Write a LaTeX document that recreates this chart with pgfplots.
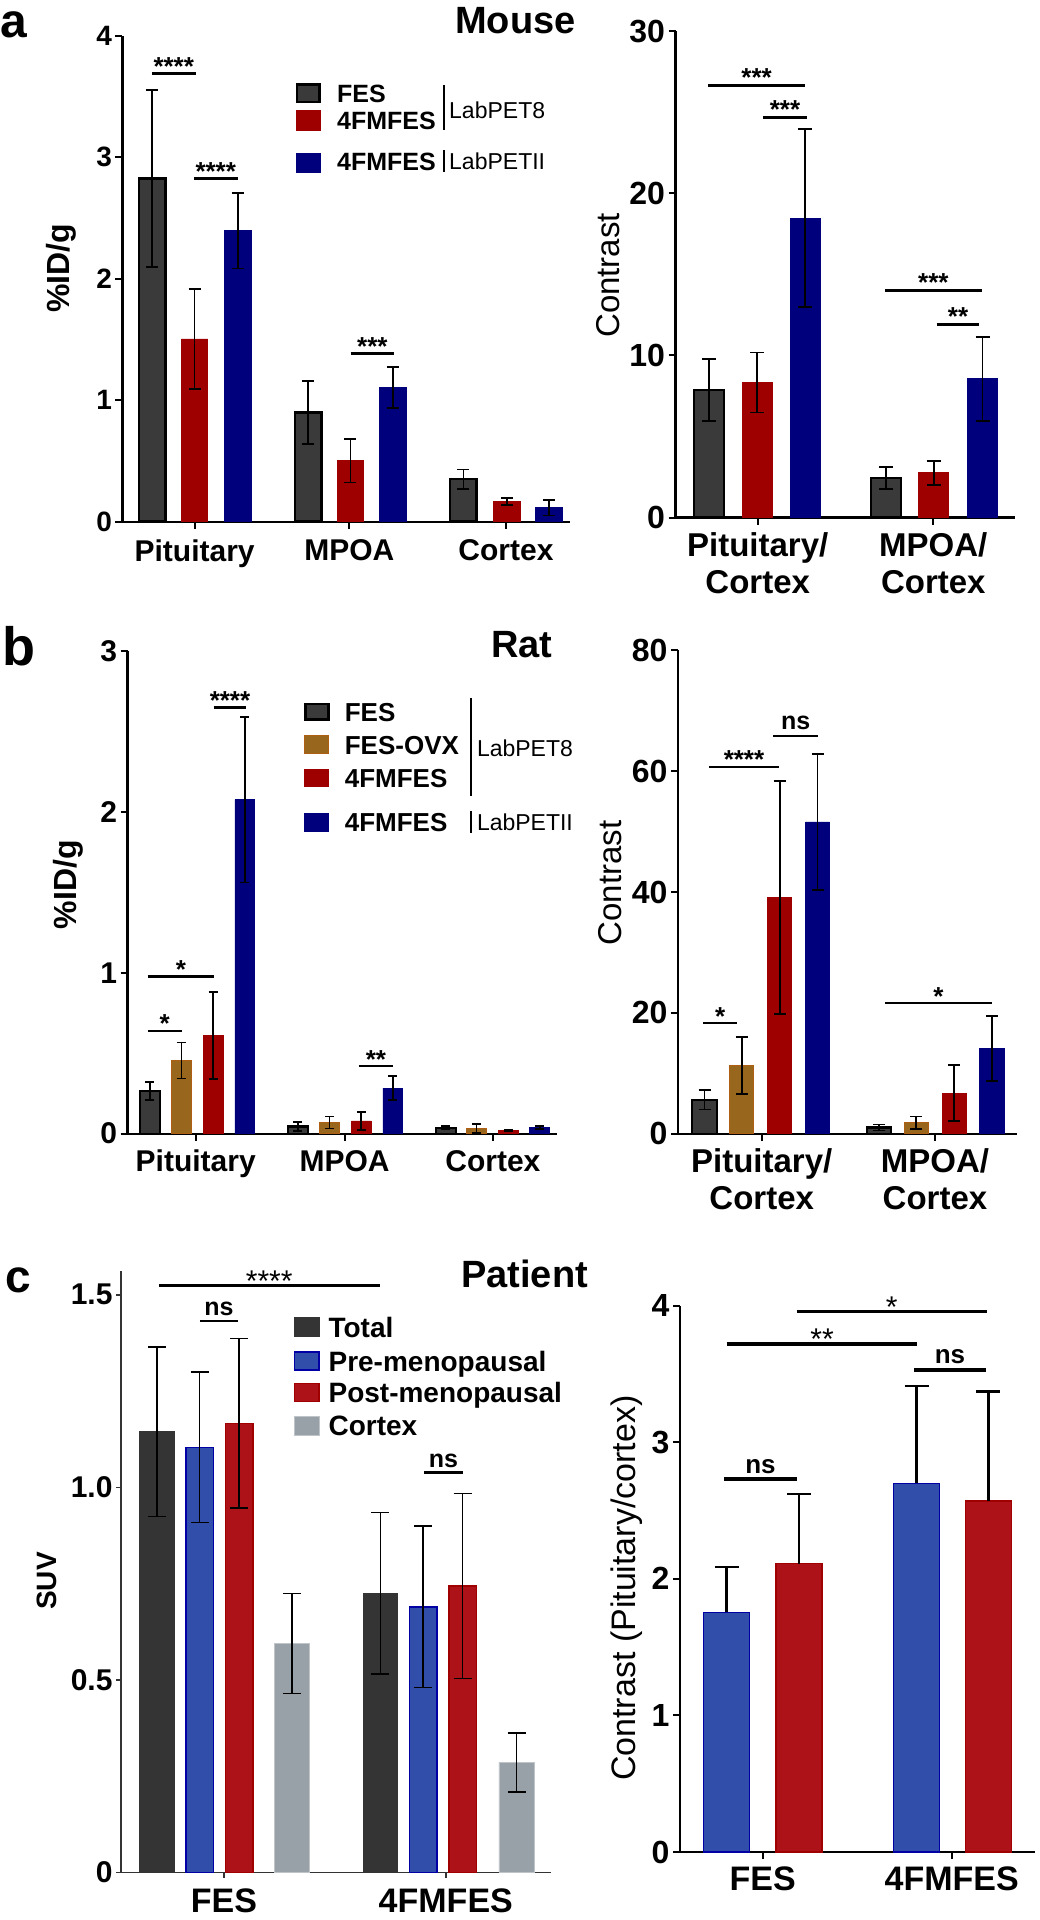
\documentclass[border=0pt]{standalone}
\usepackage{pgfplots}
\pgfplotsset{compat=1.18}
\usepackage{fontspec}
\setmainfont{Liberation Sans}
\newcommand\fs[1]{\fontsize{#1}{#1}\selectfont}
\definecolor{fesgray}{RGB}{58,58,58}
\definecolor{redA}{RGB}{158,0,0}
\definecolor{navyA}{RGB}{0,0,125}
\definecolor{ovx}{RGB}{152,102,28}
\definecolor{ovxb}{RGB}{175,95,20}
\definecolor{ctot}{RGB}{52,52,52}
\definecolor{cpre}{RGB}{48,78,170}
\definecolor{cpreb}{RGB}{0,0,165}
\definecolor{cpost}{RGB}{172,18,24}
\definecolor{cpostb}{RGB}{160,0,0}
\definecolor{ccor}{RGB}{152,161,167}
\definecolor{ccorb}{RGB}{190,196,200}
\tikzset{sig/.style={line width=2.4pt}, sigc/.style={line width=3.4pt}}
\pgfplotsset{
 panel/.style={scale only axis, clip=false, anchor=south west,
   axis x line*=bottom, axis y line*=left,
   axis line style={line width=2.2pt,black},
   major tick length=7pt, tick align=outside,
   tick style={line width=2pt,black},
   ymin=0,
   yticklabel style={font=\fs{28}\bfseries},
   xticklabel style={font=\fontsize{30}{36}\selectfont\bfseries, align=center}},
 errs/.style 2 args={error bars/.cd, y dir=both, y explicit,
   error bar style={line width=#1,black},
   error mark options={rotate=90, mark size=#2, line width=#1, black}},
 errp/.style 2 args={error bars/.cd, y dir=plus, y explicit,
   error bar style={line width=#1,black},
   error mark options={rotate=90, mark size=#2, line width=#1, black}},
}
\begin{document}
\begin{tikzpicture}
\useasboundingbox (0pt,-1920pt) rectangle (1039pt,0pt);

% ---------------- a left
\begin{axis}[panel, at={(122.5pt,-521.6pt)}, width=447.5pt, height=485.7pt,
  xmin=122.5, xmax=570, ymax=4, ytick={0,1,2,3,4}, yticklabels={0,1,2,3,4},
  xtick={194.6,349.3,506}, xticklabels={Pituitary,MPOA,Cortex},
  xticklabel style={yshift=-7.5pt},
  ylabel={\%ID/g}, ylabel style={font=\fs{32}\bfseries, at={(axis description cs:-0.137,0.522)}, anchor=center}]
\addplot[ybar, bar shift=0pt, bar width=26.5pt, fill=fesgray, draw=black, line width=2.5pt, errs={1.8pt}{6pt}]
 coordinates {(152.3,2.825) +- (0,0.73) (308.2,0.898) +- (0,0.26) (463.4,0.349) +- (0,0.08)};
\addplot[ybar, bar shift=0pt, bar width=26.5pt, fill=redA, draw=redA, line width=0.8pt, errs={1.8pt}{6pt}]
 coordinates {(194.5,1.504) +- (0,0.41) (350.4,0.502) +- (0,0.18) (507,0.165) +- (0,0.03)};
\addplot[ybar, bar shift=0pt, bar width=26.5pt, fill=navyA, draw=navyA, line width=0.8pt, errs={1.8pt}{6pt}]
 coordinates {(237.7,2.395) +- (0,0.31) (392.7,1.105) +- (0,0.17) (549,0.115) +- (0,0.065)};
\draw[sig] (axis cs:151.8,3.69) -- (axis cs:195.7,3.69) node[midway, anchor=base, yshift=-2pt, font=\fs{26}\bfseries] {****};
\draw[sig] (axis cs:194,2.825) -- (axis cs:237.5,2.825) node[midway, anchor=base, yshift=-2pt, font=\fs{26}\bfseries] {****};
\draw[sig] (axis cs:350.7,1.386) -- (axis cs:394,1.386) node[midway, anchor=base, yshift=-2pt, font=\fs{26}\bfseries] {***};
\end{axis}

% ---------------- a right
\begin{axis}[panel, at={(675.5pt,-517.5pt)}, width=339.5pt, height=486.1pt,
  xmin=675.5, xmax=1015, ymax=30, ytick={0,10,20,30}, yticklabels={0,10,20,30},
  yticklabel style={font=\fs{32}\bfseries},
  xtick={757.7,933.3}, xticklabels={{Pituitary/\\Cortex},{MPOA/\\Cortex}},
  xticklabel style={font=\fontsize{33}{37}\selectfont\bfseries, yshift=-5pt},
  ylabel={Contrast}, ylabel style={font=\fs{33}, at={(axis description cs:-0.199,0.498)}, anchor=center}]
\addplot[ybar, bar shift=0pt, bar width=30pt, fill=fesgray, draw=black, line width=2.5pt, errs={1.8pt}{7pt}]
 coordinates {(709,7.87) +- (0,1.9) (886,2.44) +- (0,0.7)};
\addplot[ybar, bar shift=0pt, bar width=30pt, fill=redA, draw=redA, line width=0.8pt, errs={1.8pt}{7pt}]
 coordinates {(757,8.33) +- (0,1.85) (933.7,2.76) +- (0,0.75)};
\addplot[ybar, bar shift=0pt, bar width=30pt, fill=navyA, draw=navyA, line width=0.8pt, errs={1.8pt}{7pt}]
 coordinates {(805,18.48) +- (0,5.5) (982.5,8.56) +- (0,2.6)};
\draw[sig] (axis cs:708.3,26.65) -- (axis cs:805,26.65) node[midway, anchor=base, yshift=-1pt, font=\fs{26}\bfseries] {***};
\draw[sig] (axis cs:763.3,24.68) -- (axis cs:806.7,24.68) node[midway, anchor=base, yshift=-1pt, font=\fs{26}\bfseries] {***};
\draw[sig] (axis cs:885,14.0) -- (axis cs:981.7,14.0) node[midway, anchor=base, yshift=-1pt, font=\fs{26}\bfseries] {***};
\draw[sig] (axis cs:936.7,11.9) -- (axis cs:979.3,11.9) node[midway, anchor=base, yshift=-1pt, font=\fs{26}\bfseries] {**};
\end{axis}

% ---------------- b left
\begin{axis}[panel, at={(127.5pt,-1133.6pt)}, width=429.5pt, height=482.4pt,
  xmin=127.5, xmax=557, ymax=3, ytick={0,1,2,3}, yticklabels={0,1,2,3},
  yticklabel style={font=\fs{30}\bfseries},
  xtick={195.7,344.6,492.9}, xticklabels={Pituitary,MPOA,Cortex},
  xticklabel style={yshift=-6pt},
  ylabel={\%ID/g}, ylabel style={font=\fs{32}\bfseries, at={(axis description cs:-0.1385,0.516)}, anchor=center}]
\addplot[ybar, bar shift=0pt, bar width=19.8pt, fill=fesgray, draw=black, line width=2.2pt, errs={1.8pt}{4.5pt}]
 coordinates {(149.8,0.265) +- (0,0.055) (297.9,0.044) +- (0,0.03) (445.8,0.037) +- (0,0.012)};
\addplot[ybar, bar shift=0pt, bar width=19.8pt, fill=ovx, draw=ovxb, line width=1pt, errs={1.8pt}{4.5pt}]
 coordinates {(181.4,0.455) +- (0,0.112) (329.5,0.069) +- (0,0.037) (476.5,0.03) +- (0,0.028)};
\addplot[ybar, bar shift=0pt, bar width=19.8pt, fill=redA, draw=redA, line width=0.8pt, errs={1.8pt}{4.5pt}]
 coordinates {(213,0.61) +- (0,0.27) (361.3,0.079) +- (0,0.056) (508,0.018) +- (0,0.005)};
\addplot[ybar, bar shift=0pt, bar width=19.8pt, fill=navyA, draw=navyA, line width=0.8pt, errs={1.8pt}{4.5pt}]
 coordinates {(244.8,2.077) +- (0,0.515) (392.8,0.283) +- (0,0.074) (539.6,0.037) +- (0,0.01)};
\draw[sig] (axis cs:213.6,2.649) -- (axis cs:246.4,2.649) node[midway, anchor=base, yshift=-2pt, font=\fs{26}\bfseries] {****};
\draw[sig] (axis cs:147.5,0.976) -- (axis cs:214.3,0.976) node[midway, anchor=base, yshift=-2pt, font=\fs{26}\bfseries] {*};
\draw[sig] (axis cs:147.5,0.639) -- (axis cs:182.1,0.639) node[midway, anchor=base, yshift=-2pt, font=\fs{26}\bfseries] {*};
\draw[sig] (axis cs:358.6,0.42) -- (axis cs:393.4,0.42) node[midway, anchor=base, yshift=-2pt, font=\fs{26}\bfseries] {**};
\end{axis}

% ---------------- b right
\begin{axis}[panel, at={(678pt,-1133.6pt)}, width=339.3pt, height=483.2pt,
  xmin=678, xmax=1017.3, ymax=80, ytick={0,20,40,60,80}, yticklabels={0,20,40,60,80},
  yticklabel style={font=\fs{32}\bfseries},
  xtick={761.7,935}, xticklabels={{Pituitary/\\Cortex},{MPOA/\\Cortex}},
  xticklabel style={font=\fontsize{33}{37}\selectfont\bfseries, yshift=-4pt},
  ylabel={Contrast}, ylabel style={font=\fs{33}, at={(axis description cs:-0.199,0.519)}, anchor=center}]
\addplot[ybar, bar shift=0pt, bar width=24.3pt, fill=fesgray, draw=black, line width=2.2pt, errs={1.8pt}{6pt}]
 coordinates {(704.5,5.6) +- (0,1.6) (879.2,1.0) +- (0,0.5)};
\addplot[ybar, bar shift=0pt, bar width=24.3pt, fill=ovx, draw=ovxb, line width=1pt, errs={1.8pt}{6pt}]
 coordinates {(741.7,11.3) +- (0,4.7) (916.3,1.8) +- (0,1.05)};
\addplot[ybar, bar shift=0pt, bar width=24.3pt, fill=redA, draw=redA, line width=0.8pt, errs={1.8pt}{6pt}]
 coordinates {(779.7,39.1) +- (0,19.3) (954.3,6.7) +- (0,4.6)};
\addplot[ybar, bar shift=0pt, bar width=24.3pt, fill=navyA, draw=navyA, line width=0.8pt, errs={1.8pt}{6pt}]
 coordinates {(817.5,51.6) +- (0,11.3) (992,14.1) +- (0,5.4)};
\draw[sig] (axis cs:703.3,18.3) -- (axis cs:737.3,18.3) node[midway, anchor=base, yshift=-2pt, font=\fs{26}\bfseries] {*};
\draw[sig] (axis cs:709,60.7) -- (axis cs:779,60.7) node[midway, anchor=base, yshift=-2pt, font=\fs{26}\bfseries] {****};
\draw[sig] (axis cs:773.3,65.8) -- (axis cs:818.3,65.8) node[midway, anchor=base, yshift=7pt, font=\fs{25}\bfseries] {ns};
\draw[sig] (axis cs:885,21.6) -- (axis cs:991.7,21.6) node[midway, anchor=base, yshift=-2pt, font=\fs{26}\bfseries] {*};
\end{axis}

% ---------------- c left
\begin{axis}[panel, at={(121pt,-1872.6pt)}, width=430pt, height=601.4pt,
  xmin=121, xmax=551, ymax=1.561, ytick={0,0.5,1,1.5}, yticklabels={0,0.5,1.0,1.5},
  yticklabel style={font=\fs{30}\bfseries}, major tick length=5pt,
  axis line style={line width=1.6pt,black!80}, tick style={line width=1.6pt,black!80},
  xtick={223.9,445.8}, xticklabels={FES,4FMFES},
  xticklabel style={font=\fs{34}\bfseries, yshift=-8pt},
  ylabel={SUV}, ylabel style={font=\fs{28}\bfseries, at={(axis description cs:-0.172,0.485)}, anchor=center}]
\addplot[ybar, bar shift=0pt, bar width=34.5pt, fill=ctot, draw=ctot, line width=0.8pt, errs={1.5pt}{9pt}]
 coordinates {(156.8,1.144) +- (0,0.22) (380.4,0.725) +- (0,0.21)};
\addplot[ybar, bar shift=0pt, bar width=27.3pt, fill=cpre, draw=cpreb, line width=1.5pt, errs={1.5pt}{9pt}]
 coordinates {(199.6,1.104) +- (0,0.195) (423.2,0.69) +- (0,0.21)};
\addplot[ybar, bar shift=0pt, bar width=27.5pt, fill=cpost, draw=cpostb, line width=1.5pt, errs={1.5pt}{9pt}]
 coordinates {(239.1,1.166) +- (0,0.22) (462.5,0.744) +- (0,0.24)};
\addplot[ybar, bar shift=0pt, bar width=35.5pt, fill=ccor, draw=ccorb, line width=0.8pt, errs={1.5pt}{9pt}]
 coordinates {(292.1,0.595) +- (0,0.13) (516.7,0.286) +- (0,0.077)};
\draw[line width=2.8pt] (axis cs:158.8,1.523) -- (axis cs:379.6,1.523) node[midway, anchor=base, yshift=-6pt, font=\fs{30}] {****};
\draw[line width=2.8pt] (axis cs:199.8,1.432) -- (axis cs:238,1.432) node[midway, anchor=base, yshift=5pt, font=\fs{25}\bfseries] {ns};
\draw[line width=2.8pt] (axis cs:424,1.039) -- (axis cs:463,1.039) node[midway, anchor=base, yshift=5pt, font=\fs{25}\bfseries] {ns};
\end{axis}

% ---------------- c right
\begin{axis}[panel, at={(680pt,-1852pt)}, width=355pt, height=546.4pt,
  xmin=680, xmax=1035, ymax=4, ytick={0,1,2,3,4}, yticklabels={0,1,2,3,4},
  yticklabel style={font=\fs{32}\bfseries},
  xtick={762.7,951.7}, xticklabels={FES,4FMFES},
  xticklabel style={font=\fs{34}\bfseries, yshift=-4pt},
  ylabel={Contrast (Pituitary/cortex)}, ylabel style={font=\fs{34}, at={(axis description cs:-0.149,0.483)}, anchor=center}]
\addplot[ybar, bar shift=0pt, bar width=46pt, fill=cpre, draw=cpreb, line width=1.2pt, errp={2.5pt}{12pt}]
 coordinates {(726.7,1.755) +- (0,0.33) (916.7,2.70) +- (0,0.71)};
\addplot[ybar, bar shift=0pt, bar width=46pt, fill=cpost, draw=cpostb, line width=1.2pt, errp={2.5pt}{12pt}]
 coordinates {(799,2.11) +- (0,0.51) (988.3,2.57) +- (0,0.80)};
\draw[sigc] (axis cs:796.7,3.956) -- (axis cs:986.7,3.956) node[midway, anchor=base, yshift=-6pt, font=\fs{30}] {*};
\draw[sigc] (axis cs:726.7,3.72) -- (axis cs:917.3,3.72) node[midway, anchor=base, yshift=-6pt, font=\fs{30}] {**};
\draw[sigc] (axis cs:914,3.53) -- (axis cs:986,3.53) node[midway, anchor=base, yshift=6pt, font=\fs{26}\bfseries] {ns};
\draw[sigc] (axis cs:724.3,2.73) -- (axis cs:796.7,2.73) node[midway, anchor=base, yshift=6pt, font=\fs{26}\bfseries] {ns};
\end{axis}

% ---------------- panel letters and titles
\node[anchor=base west, inner sep=0, font=\fs{48}\bfseries] at (0pt,-37pt) {a};
\node[anchor=base west, inner sep=0, font=\fs{54}\bfseries] at (2pt,-665pt) {b};
\node[anchor=base west, inner sep=0, font=\fs{46}\bfseries] at (5pt,-1292pt) {c};
\node[anchor=base west, inner sep=0, font=\fs{38}\bfseries] at (455pt,-33pt) {Mouse};
\node[anchor=base west, inner sep=0, font=\fs{38}\bfseries] at (491pt,-657pt) {Rat};
\node[anchor=base west, inner sep=0, font=\fs{38}\bfseries] at (461pt,-1287pt) {Patient};

% ---------------- legend a
\filldraw[fill=fesgray, draw=black, line width=2.5pt] (297pt,-84.5pt) rectangle (319.7pt,-102pt);
\fill[redA] (296pt,-110pt) rectangle (320.7pt,-130.7pt);
\fill[navyA] (296pt,-152.7pt) rectangle (320.7pt,-172.7pt);
\node[anchor=base west, inner sep=0, font=\fs{25}\bfseries] at (337pt,-102.3pt) {FES};
\node[anchor=base west, inner sep=0, font=\fs{25}\bfseries] at (337pt,-129.7pt) {4FMFES};
\node[anchor=base west, inner sep=0, font=\fs{25}\bfseries] at (337pt,-170.7pt) {4FMFES};
\draw[line width=2pt] (444.3pt,-85pt) -- (444.3pt,-130pt);
\draw[line width=2pt] (444.3pt,-150pt) -- (444.3pt,-171.7pt);
\node[anchor=base west, inner sep=0, font=\fs{23}] at (449pt,-118.2pt) {LabPET8};
\node[anchor=base west, inner sep=0, font=\fs{23}] at (449pt,-169.9pt) {LabPETII};

% ---------------- legend b
\filldraw[fill=fesgray, draw=black, line width=2.5pt] (305.3pt,-703.8pt) rectangle (328.3pt,-719.6pt);
\filldraw[fill=ovx, draw=ovxb, line width=1pt] (304.8pt,-735.9pt) rectangle (328.8pt,-753.5pt);
\fill[redA] (304.3pt,-768.6pt) rectangle (329.3pt,-786.8pt);
\fill[navyA] (304.3pt,-813.3pt) rectangle (329.3pt,-831.5pt);
\node[anchor=base west, inner sep=0, font=\fs{26}\bfseries] at (344.6pt,-721pt) {FES};
\node[anchor=base west, inner sep=0, font=\fs{26}\bfseries] at (344.6pt,-754.2pt) {FES-OVX};
\node[anchor=base west, inner sep=0, font=\fs{26}\bfseries] at (344.6pt,-787pt) {4FMFES};
\node[anchor=base west, inner sep=0, font=\fs{26}\bfseries] at (344.6pt,-831.3pt) {4FMFES};
\draw[line width=2pt] (471.4pt,-697.8pt) -- (471.4pt,-795.5pt);
\draw[line width=2pt] (471.4pt,-811.3pt) -- (471.4pt,-833pt);
\node[anchor=base west, inner sep=0, font=\fs{23}] at (476.8pt,-756.2pt) {LabPET8};
\node[anchor=base west, inner sep=0, font=\fs{23}] at (476.8pt,-830.2pt) {LabPETII};

% ---------------- legend c
\fill[ctot] (293.9pt,-1317pt) rectangle (319.6pt,-1336.8pt);
\filldraw[fill=cpre, draw=cpreb, line width=1.5pt] (294.6pt,-1352.2pt) rectangle (318.9pt,-1370.1pt);
\filldraw[fill=cpost, draw=cpostb, line width=1.5pt] (294.6pt,-1383.4pt) rectangle (318.9pt,-1401.3pt);
\filldraw[fill=ccor, draw=ccorb, line width=1pt] (294.4pt,-1416.3pt) rectangle (319.1pt,-1435pt);
\node[anchor=base west, inner sep=0, font=\fs{28}\bfseries] at (328.4pt,-1337pt) {Total};
\node[anchor=base west, inner sep=0, font=\fs{28}\bfseries] at (328.4pt,-1371pt) {Pre-menopausal};
\node[anchor=base west, inner sep=0, font=\fs{28}\bfseries] at (328.4pt,-1402.5pt) {Post-menopausal};
\node[anchor=base west, inner sep=0, font=\fs{28}\bfseries] at (328.4pt,-1435.6pt) {Cortex};
\end{tikzpicture}
\end{document}
